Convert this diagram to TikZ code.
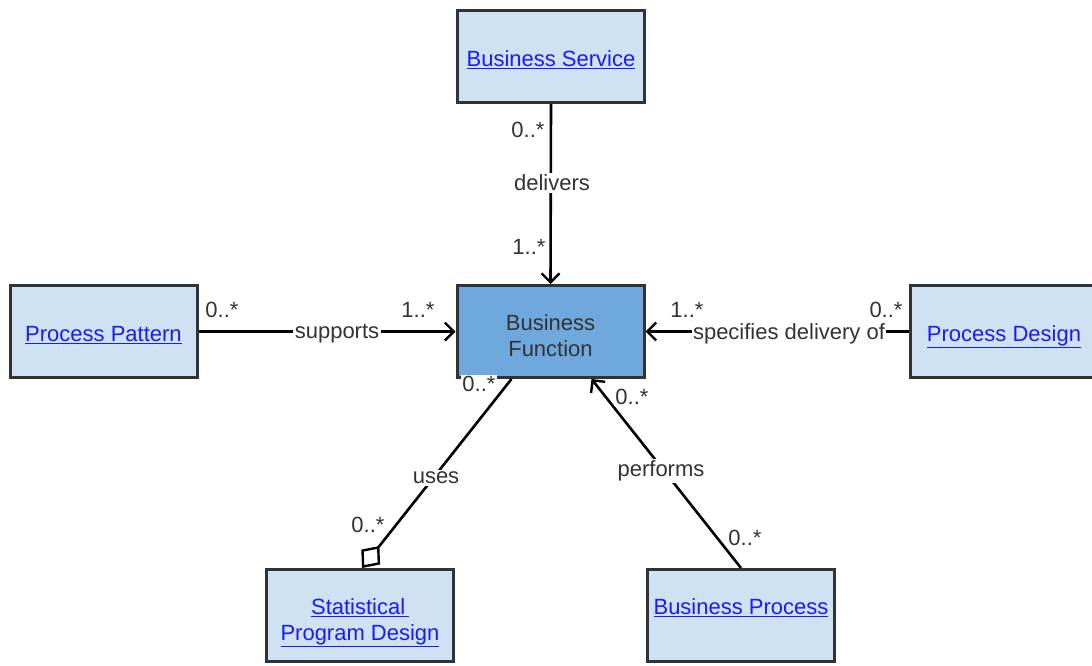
\documentclass[tikz,border=0pt]{standalone}
\usepackage{fontspec}
\setmainfont{Liberation Sans}
\usetikzlibrary{arrows.meta,calc}
\definecolor{boxfill}{HTML}{CFE2F3}
\definecolor{bffill}{HTML}{6FA8DC}
\definecolor{bordercol}{HTML}{333333}
\definecolor{linkblue}{HTML}{1A1AFF}
\definecolor{lblcol}{HTML}{333333}
\newcommand{\lnk}[1]{\underline{#1}}
\newcommand{\etext}[2][-10pt]{\raisebox{#1}[0pt][0pt]{\begin{tabular}{@{}c@{}}#2\end{tabular}}}
\tikzset{
  entity/.style={draw=bordercol, line width=3pt, fill=boxfill, minimum width=187pt,
    minimum height=92pt, inner sep=0pt, align=center, text=linkblue,
    font=\fontsize{22}{26}\selectfont},
  assoc/.style={line width=2.6pt, draw=black},
  tip/.style={-{Straight Barb[length=9pt,width=18pt,line width=2.4pt]}},
  lbl/.style={fill=white, text=lblcol, inner sep=1.5pt, font=\fontsize{22}{26}\selectfont},
}
\begin{document}
\begin{tikzpicture}[x=1pt,y=-1pt]
\useasboundingbox (0,0) rectangle (1092,665);
\fill[white] (0,0) rectangle (1092,665);
% entities
\node[entity] (bs) at (551,56.5) {\etext{\lnk{Business Service}}};
\node[entity, fill=bffill, text=lblcol] (bf) at (550.5,331.5) {\etext[-11.5pt]{Business\\Function}};
\node[entity] (pp) at (103.5,331.5) {\etext{\lnk{Process Pattern}}};
\node[entity] (pd) at (1004,331.5) {\etext{\lnk{Process Design}}};
\node[entity] (spd) at (360,615.5) {\etext[-12pt]{\lnk{Statistical\,}\\\lnk{Program Design}}};
\node[entity] (bp) at (741,615.5) {\etext[1pt]{\lnk{Business Process}}};
% connectors
\coordinate (bfuse) at ($(bf.south west)+(56,0)$);
\coordinate (bfperf) at ($(bf.south west)+(136,0)$);
\coordinate (spdtop) at ($(spd.north)+(2,0)$);
\draw[assoc, tip] (bs.south) -- (bf.north);
\draw[assoc, tip] (pp.east) -- (bf.west);
\draw[assoc, tip] (pd.west) -- (bf.east);
\draw[assoc, {Diamond[open, length=28pt, width=24pt, line width=2.4pt]}-] (spdtop) -- (bfuse);
\draw[assoc, tip] (bp.north) -- (bfperf);
% labels
\node[lbl] (l1) at (528,130) {0..*};
\node[lbl] (l2) at (552,183) {delivers};
\node[lbl] (l3) at (529,247) {1..*};
\node[lbl] (l4) at (222,310) {0..*};
\node[lbl] (l5) at (337,334) {supports};
\node[lbl] (l6) at (418,310) {1..*};
\node[lbl] (l7) at (687,310) {1..*};
\node[lbl] (l8) at (789,334) {specifies delivery of};
\node[lbl] (l9) at (886,310) {0..*};
\node[lbl] (l10) at (479,384) {0..*};
\node[lbl] (l11) at (436,478) {uses};
\node[lbl] (l12) at (368,525) {0..*};
\node[lbl] (l13) at (632,397) {0..*};
\node[lbl] (l14) at (661,471) {performs};
\node[lbl] (l15) at (745,538) {0..*};
\end{tikzpicture}
\end{document}
